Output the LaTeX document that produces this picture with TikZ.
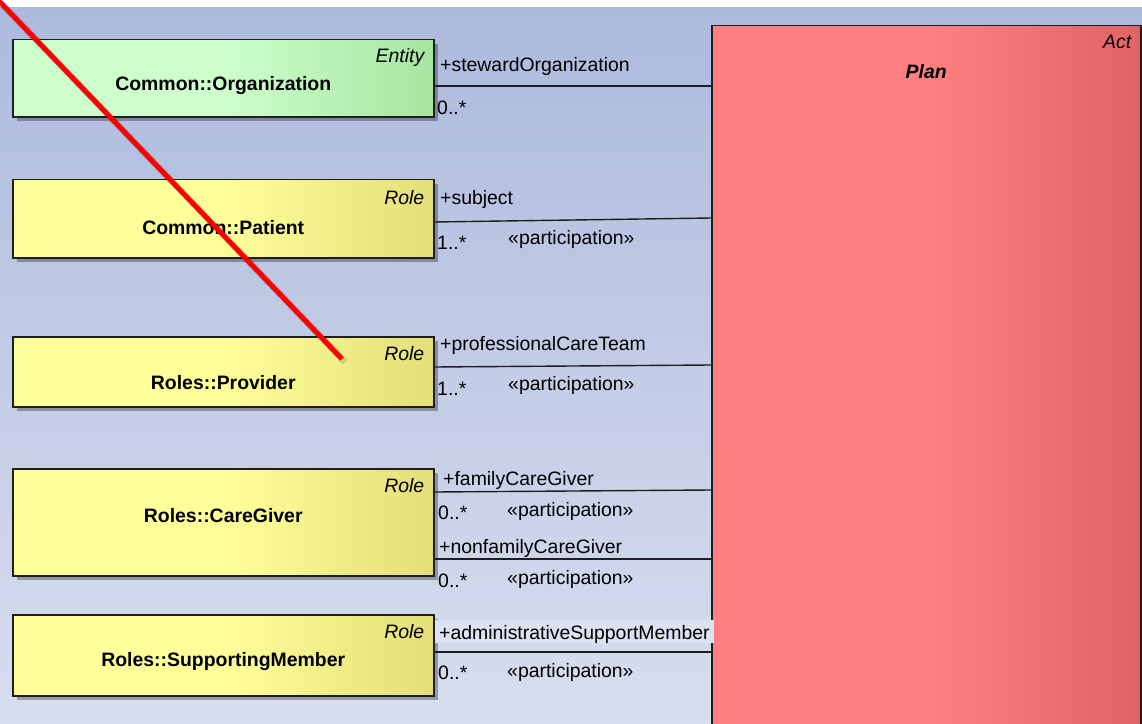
\documentclass[tikz,border=0pt]{standalone}
\usepackage{fontspec}
\setmainfont{Liberation Sans}
\usetikzlibrary{shadows}
\definecolor{bgtop}{HTML}{ADBADD}
\definecolor{bgbot}{HTML}{D8DEEF}
\definecolor{entL}{HTML}{CCFFCC}
\definecolor{entR}{HTML}{A6E6A0}
\definecolor{roleL}{HTML}{FFFF99}
\definecolor{roleR}{HTML}{E3DE78}
\definecolor{actL}{HTML}{FF8080}
\definecolor{actR}{HTML}{E06464}
\definecolor{boxline}{HTML}{1E1E1E}
\definecolor{endbg}{HTML}{DCE2F1}

\begin{document}
\begin{tikzpicture}[x=1bp, y=-1bp, font=\fontsize{19.5}{22}\selectfont,
  cls/.style={draw=boxline, line width=1.5bp, rectangle, anchor=north west, inner sep=0pt,
    drop shadow={shadow xshift=4bp, shadow yshift=-4bp, fill=black, opacity=0.3}},
  entity/.style={cls, left color=entL, right color=entR, middle color=entL},
  role/.style={cls, left color=roleL, right color=roleR, middle color=roleL},
  act/.style={cls, left color=actL, right color=actR, middle color=actL},
  stereo/.style={font=\fontsize{19.5}{22}\selectfont\itshape, anchor=north east, inner sep=0pt},
  cname/.style={font=\fontsize{19.5}{22}\selectfont\bfseries, inner sep=0pt},
  assoc/.style={draw=boxline, line width=1.4bp},
  lbl/.style={anchor=base west, inner sep=0pt},
]

\useasboundingbox (0,0) rectangle (1142,724);
\clip (0,0) rectangle (1142,724);

\fill[white] (0,0) rectangle (1142,8);
\shade[top color=bgtop, bottom color=bgbot] (0,8) rectangle (1142,724);

\node[act, minimum width=429bp, minimum height=760bp] (plan) at (711,25) {};
\node[stereo] (planS) at ([xshift=-10bp, yshift=-10bp]plan.north east) {Act};
\node[cname, font=\fontsize{19.5}{22}\selectfont\bfseries\itshape] (planN) at ([yshift=-47bp]plan.north) {Plan};

\node[entity, minimum width=421bp, minimum height=77bp] (org) at (12,39) {};
\node[role, minimum width=421bp, minimum height=78bp] (pat) at (12,179) {};
\node[role, minimum width=421bp, minimum height=70bp] (prov) at (12,336) {};
\node[role, minimum width=421bp, minimum height=107bp] (care) at (12,468) {};
\node[role, minimum width=421bp, minimum height=81bp] (supp) at (12,614) {};

\node[stereo] (orgS) at ([xshift=-10bp, yshift=-9bp]org.north east) {Entity};
\node[stereo] (patS) at ([xshift=-10bp, yshift=-11bp]pat.north east) {Role};
\node[stereo] (provS) at ([xshift=-10bp, yshift=-10bp]prov.north east) {Role};
\node[stereo] (careS) at ([xshift=-10bp, yshift=-10bp]care.north east) {Role};
\node[stereo] (suppS) at ([xshift=-10bp, yshift=-10bp]supp.north east) {Role};

\node[cname] (orgN) at ([yshift=-47bp]org.north) {Common::Organization};
\node[cname] (patN) at ([yshift=-49bp]pat.north) {Common::Patient};
\node[cname] (provN) at ([yshift=-47bp]prov.north) {Roles::Provider};
\node[cname] (careN) at ([yshift=-48bp]care.north) {Roles::CareGiver};
\node[cname] (suppN) at ([yshift=-48bp]supp.north) {Roles::SupportingMember};

\draw[assoc] (org.east |- 0,86) -- (plan.west |- 0,86);
\draw[assoc] (pat.east |- 0,222) -- (plan.west |- 0,218);
\draw[assoc] (prov.east |- 0,367) -- (plan.west |- 0,365);
\draw[assoc] (care.east |- 0,492) -- (plan.west |- 0,490);
\draw[assoc] (care.east |- 0,559) -- (plan.west |- 0,559);
\draw[assoc] (supp.east |- 0,652) -- (plan.west |- 0,652);

\node[lbl] (orgR) at (440,72) {+stewardOrganization};
\node[lbl] (orgM) at (437,115) {0..*};

\node[lbl] (patR) at (440,205) {+subject};
\node[lbl] (patM) at (437,249) {1..*};
\node[lbl] (patP) at (508,244) {«participation»};

\node[lbl] (provR) at (440,350) {+professionalCareTeam};
\node[lbl] (provM) at (437,395) {1..*};
\node[lbl] (provP) at (508,390) {«participation»};

\node[lbl] (famR) at (443,485) {+familyCareGiver};
\node[lbl] (famM) at (438,519) {0..*};
\node[lbl] (famP) at (507,516) {«participation»};

\node[lbl] (nfamR) at (439,553) {+nonfamilyCareGiver};
\node[lbl] (nfamM) at (438,587) {0..*};
\node[lbl] (nfamP) at (507,584) {«participation»};

\fill[endbg] (435,620) rectangle (714,643);
\node[lbl] (admR) at (439,639) {+administrativeSupportMember};
\node[lbl] (admM) at (438,679) {0..*};
\node[lbl] (admP) at (507,677) {«participation»};

\coordinate (penA) at (-2,0);
\coordinate (penB) at (342,359);
\draw[black, opacity=0.12, line width=7bp] ([shift={(3,3)}]penA) -- ([shift={(3,3)}]penB);
\draw[red, line width=5bp] (penA) -- (penB);

\end{tikzpicture}
\end{document}
